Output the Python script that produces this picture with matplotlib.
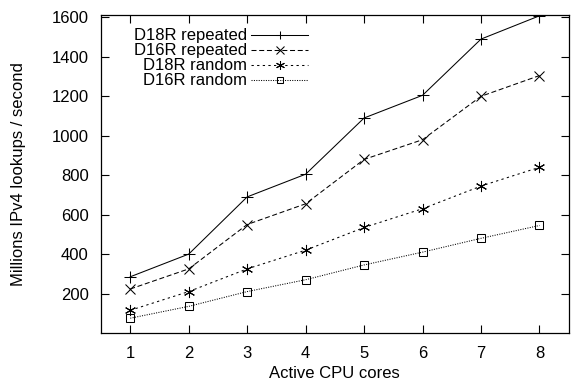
import matplotlib
matplotlib.use('Agg')
import matplotlib.pyplot as plt

# Data
cores = [1, 2, 3, 4, 5, 6, 7, 8]
d18r_repeated = [285, 400, 690, 805, 1090, 1205, 1490, 1608]
d16r_repeated = [223, 325, 550, 655, 880, 980, 1200, 1305]
d18r_random = [115, 210, 325, 420, 535, 630, 745, 840]
d16r_random = [75, 135, 210, 270, 345, 410, 480, 545]

plt.rcParams['font.family'] = ['Liberation Sans', 'DejaVu Sans']
plt.rcParams['font.size'] = 12

fig = plt.figure(figsize=(5.71, 3.86), dpi=100)
ax = fig.add_axes([0.1769, 0.1373, 0.8191, 0.8238])

asterisk = (6, 2, 0)
ax.plot(cores, d18r_repeated, color='black', lw=0.75, marker='+', ms=8, mew=0.75,
        label='D18R repeated')
ax.plot(cores, d16r_repeated, color='black', lw=0.75, marker='x', ms=7, mew=0.75,
        linestyle=(0, (4.8, 2.6)), label='D16R repeated')
ax.plot(cores, d18r_random, color='black', lw=0.75, marker=asterisk, ms=8, mew=0.75,
        linestyle=(0, (2.2, 3.2)), label='D18R random')
ax.plot(cores, d16r_random, color='black', lw=0.75, marker='s', ms=6, mew=0.75,
        fillstyle='none', linestyle=(0, (1, 1.3)), label='D16R random')

ax.set_xlim(0.5, 8.5)
ax.set_ylim(0, 1612)
ax.set_xticks(cores)
ax.set_yticks([200, 400, 600, 800, 1000, 1200, 1400, 1600])
ax.tick_params(direction='in', length=5.5, width=0.8, top=True, right=True,
               labelsize=12, pad=9)
for s in ax.spines.values():
    s.set_linewidth(0.9)

ax.set_xlabel('Active CPU cores', fontsize=12, labelpad=4)
ax.set_ylabel('Millions IPv4 lookups / second', fontsize=12, labelpad=18)

ax.legend(loc='upper right', bbox_to_anchor=(0.4426, 0.958), frameon=False,
          markerfirst=False, handlelength=3.4, labelspacing=0.0,
          handletextpad=0.25, borderaxespad=0.0, borderpad=0.0, fontsize=12,
          markerscale=0.8)

plt.savefig('out.png', dpi=100)
